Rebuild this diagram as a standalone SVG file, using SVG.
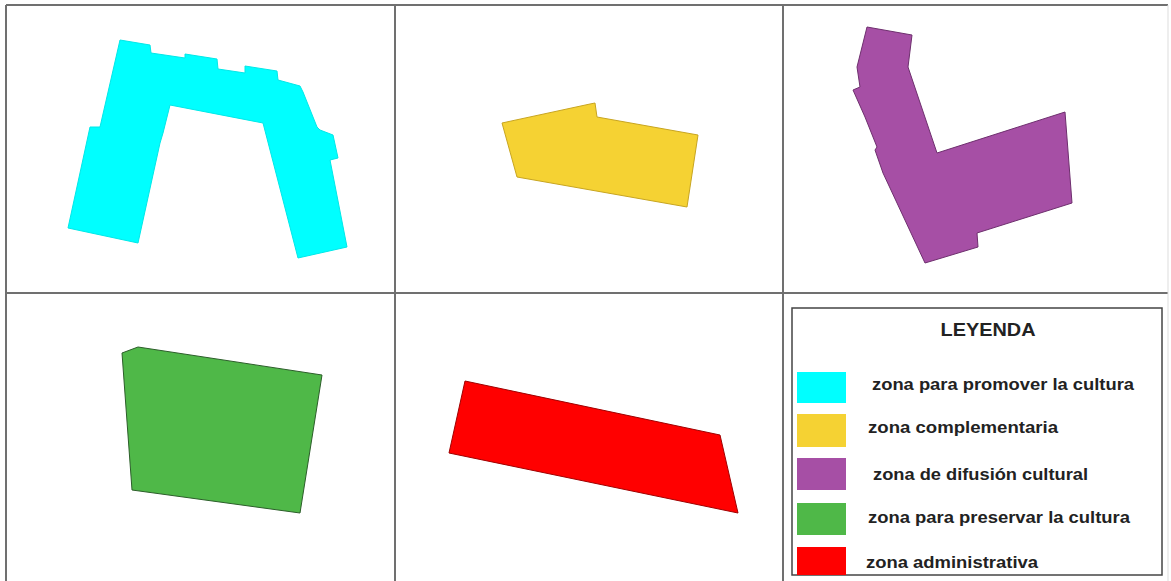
<svg xmlns="http://www.w3.org/2000/svg" width="1171" height="581" viewBox="0 0 1171 581">
<style>
.grid{stroke:#707070;stroke-width:2;fill:none}
.zone{stroke-width:1;stroke-linejoin:round}
.lbl{font-family:"Liberation Sans",Arial,sans-serif;font-weight:bold;font-size:16px;fill:#222}
.ttl{font-family:"Liberation Sans",Arial,sans-serif;font-weight:bold;font-size:18px;fill:#222}
</style>
<rect width="1171" height="581" fill="#ffffff"/>
<g id="grid">
<line class="grid" x1="6" y1="5" x2="1168" y2="5"/>
<line class="grid" x1="6" y1="5" x2="6" y2="581"/>
<line class="grid" x1="395" y1="5" x2="395" y2="581"/>
<line class="grid" x1="783" y1="5" x2="783" y2="581"/>
<line class="grid" x1="6" y1="293" x2="1168" y2="293"/>
<line x1="1168" y1="5" x2="1168" y2="581" stroke="#dddddd" stroke-width="1"/>
</g>
<g id="zona-promover">
<polygon class="zone" fill="#00ffff" stroke="#00e8e8" points="120,40 150,45 151,53 185,58 185,54 217,59 218,69 245,73 245,66 277,71 278,80 300,86 303,92 317,127 320,130 333,135 338,158 330,160 347,247 298,258 263,123 170,105 163,133 160,143 138,243 68,228 90,127 100,127"/>
</g>
<g id="zona-complementaria">
<polygon class="zone" fill="#f5d233" stroke="#c8a520" points="502,123 590,104 595,103 597,117 698,135 687,207 517,177"/>
</g>
<g id="zona-difusion">
<polygon class="zone" fill="#a64fa5" stroke="#6e2f6e" points="867,27 912,35 908,67 937,153 1065,112 1072,203 977,233 978,247 925,263 883,173 875,150 877,147 865,117 853,90 860,87 857,67"/>
</g>
<g id="zona-preservar">
<polygon class="zone" fill="#4fb848" stroke="#2c5e2a" points="122,353 138,347 322,375 300,513 132,490"/>
</g>
<g id="zona-administrativa">
<polygon class="zone" fill="#ff0000" stroke="#a00000" points="465,381 720,435 738,513 449,453"/>
</g>
<g id="leyenda">
<rect x="792" y="308" width="370" height="267" fill="#ffffff" stroke="#444444" stroke-width="1.5"/>
<text class="ttl" x="988" y="336" text-anchor="middle" textLength="95" lengthAdjust="spacingAndGlyphs">LEYENDA</text>
<rect x="797" y="372" width="49" height="31" fill="#00ffff"/>
<rect x="797" y="414" width="49" height="33" fill="#f5d233"/>
<rect x="797" y="458" width="49" height="32" fill="#a64fa5"/>
<rect x="797" y="503" width="49" height="32" fill="#4fb848"/>
<rect x="797" y="547" width="49" height="28" fill="#ff0000"/>
<text class="lbl" x="872" y="390" textLength="262" lengthAdjust="spacingAndGlyphs">zona para promover la cultura</text>
<text class="lbl" x="868" y="433" textLength="190" lengthAdjust="spacingAndGlyphs">zona complementaria</text>
<text class="lbl" x="873" y="480" textLength="215" lengthAdjust="spacingAndGlyphs">zona de difusión cultural</text>
<text class="lbl" x="868" y="523" textLength="262" lengthAdjust="spacingAndGlyphs">zona para preservar la cultura</text>
<text class="lbl" x="866" y="568" textLength="172" lengthAdjust="spacingAndGlyphs">zona administrativa</text>
</g>
</svg>
